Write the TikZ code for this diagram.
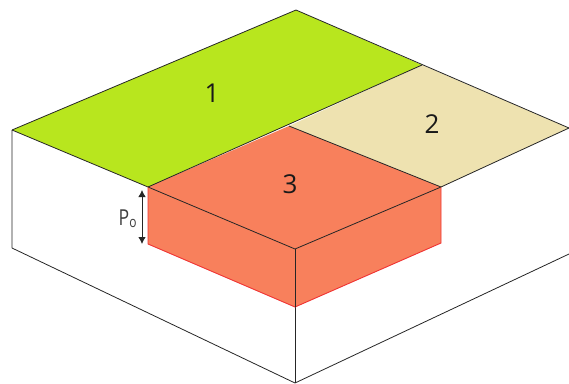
\documentclass[tikz,border=0pt]{standalone}
\usepackage{fontspec}
\setmainfont{Open Sans}
\usetikzlibrary{arrows.meta}
\definecolor{greenface}{RGB}{184,230,30}
\definecolor{sandface}{RGB}{238,226,176}
\definecolor{orangeface}{RGB}{248,128,92}
\definecolor{redline}{RGB}{240,50,50}
\tikzset{edge/.style={draw=black!85,line width=0.8pt},rededge/.style={draw=redline,line width=0.9pt},num/.style={font=\fontsize{26}{28}\selectfont,inner sep=0pt,text=black!90}}
\begin{document}
\begin{tikzpicture}[x=1pt,y=-1pt,line join=round]
\useasboundingbox (0,0) rectangle (569,383);
\coordinate (T) at (296,10);
\coordinate (L) at (12,130);
\coordinate (LB) at (12,248);
\coordinate (B) at (295,383);
\coordinate (R) at (569,254);
\coordinate (Ra) at (569,128);
\coordinate (M1) at (422,65);
\coordinate (C) at (289,126);
\coordinate (P) at (148,187);
\coordinate (Q) at (441,187);
\coordinate (F) at (295,249);
\coordinate (Pb) at (148,244);
\coordinate (Fb) at (295,307);
\coordinate (Qb) at (441,243);
\fill[white] (L)--(LB)--(B)--(R)--(Ra)--(Q)--(F)--(P)--cycle;
\fill[greenface] (T)--(M1)--(P)--(L)--cycle;
\fill[sandface] (M1)--(Ra)--(Q)--(C)--cycle;
\fill[orangeface] (C)--(Q)--(Qb)--(Fb)--(Pb)--(P)--cycle;
\draw[edge] (L)--(T)--(Ra);
\draw[edge] (L)--(P)--(F)--(Q)--(Ra);
\draw[edge] (P)--(M1);
\draw[edge] (C)--(Q);
\draw[edge] (L)--(LB)--(B)--(R);
\draw[edge] (Fb)--(B);
\draw[rededge] (P)--(Pb)--(Fb)--(Qb)--(Q);
\draw[edge] (F)--(Fb);
\node[num] (n1) at (212,93) {1};
\node[num] (n2) at (432,124) {2};
\node[num] (n3) at (290,184) {3};
\coordinate (A1) at (142,190);
\coordinate (A2) at (142,244);
\draw[{Latex[length=7pt,width=7.5pt]}-{Latex[length=7pt,width=7.5pt]},line width=0.9pt,black!85] (A1)--(A2);
\node[font=\fontsize{22}{24}\selectfont,inner sep=0pt,text=black!75,anchor=base west,xscale=0.8] (po) at (118.5,225) {P\raisebox{-2pt}{\fontsize{15}{16}\selectfont o}};
\end{tikzpicture}
\end{document}
